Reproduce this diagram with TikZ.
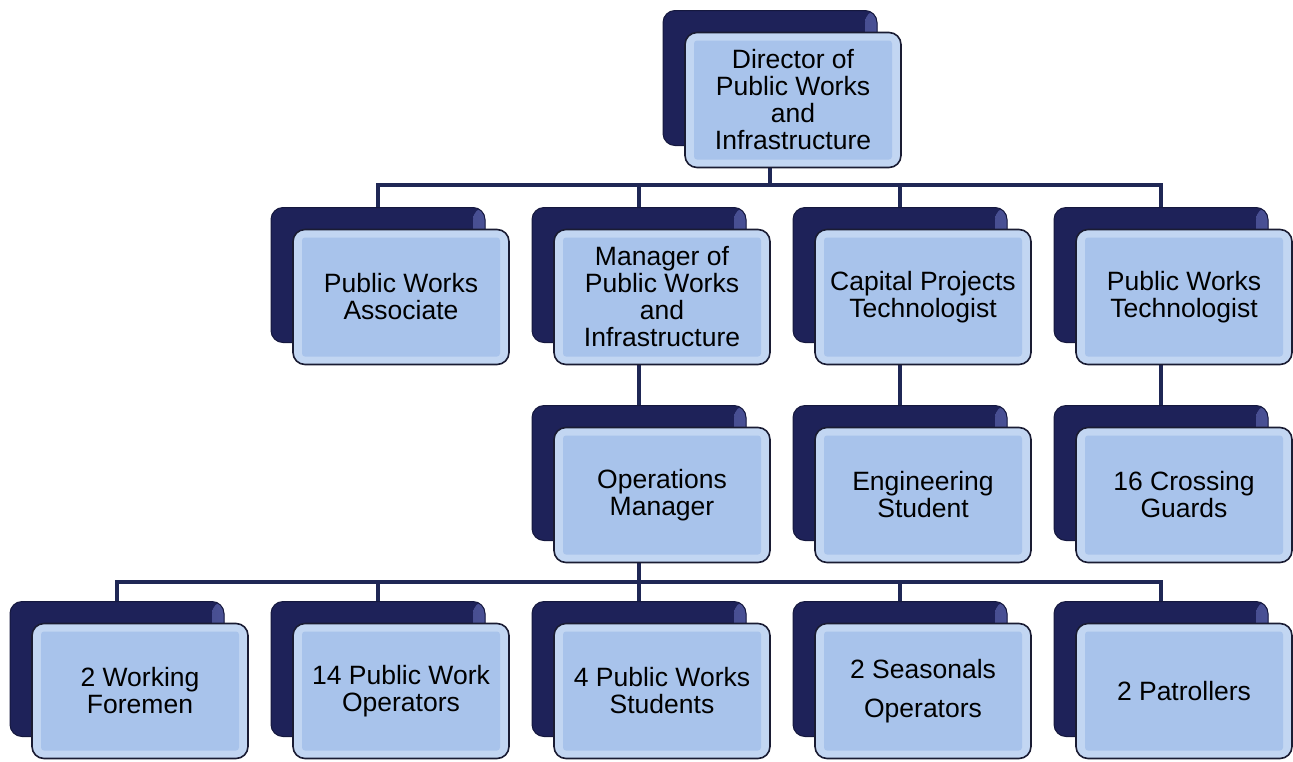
\documentclass[tikz,border=0pt]{standalone}
\usepackage{fontspec}
\setmainfont{Liberation Sans}
\usetikzlibrary{backgrounds}
\definecolor{navy}{HTML}{1E2259}
\definecolor{navyedge}{HTML}{4A5195}
\definecolor{lineblue}{HTML}{1F2755}
\definecolor{boxblue}{HTML}{A8C3EB}
\definecolor{bevel}{HTML}{C2D6F2}
\definecolor{boxedge}{HTML}{1A1C33}
\tikzset{
 backbox/.style={draw=navy!70!black, line width=1pt, fill=navy, rounded corners=12pt,
   minimum width=214pt, minimum height=135pt, inner sep=0pt,
   path picture={\shade[left color=navy, right color=navyedge]
     ([xshift=-12pt]path picture bounding box.north east) rectangle (path picture bounding box.south east);}},
 frontbox/.style={draw=boxedge, line width=1.6pt, fill=bevel, rounded corners=12pt,
   minimum width=216pt, minimum height=135pt, inner sep=0pt, align=center,
   font=\fontsize{26.5}{27}\selectfont,
   path picture={\fill[boxblue, rounded corners=3pt] ([shift={(9pt,-8pt)}]path picture bounding box.north west)
     rectangle ([shift={(-9pt,8pt)}]path picture bounding box.south east);}},
 conn/.style={draw=lineblue, line width=4pt}
}
\begin{document}
\begin{tikzpicture}[x=1pt,y=-1pt]
\useasboundingbox (0,0) rectangle (1293,761);
\coordinate (busA) at (0,185);
\coordinate (busB) at (0,582);
% back boxes
\node[backbox] (dirB) at (770,78) {};
\node[backbox] (pwaB) at (378,275) {};
\node[backbox] (mgrB) at (639,275) {};
\node[backbox] (cptB) at (900,275) {};
\node[backbox] (pwtB) at (1161,275) {};
\node[backbox] (opsB) at (639,473) {};
\node[backbox] (engB) at (900,473) {};
\node[backbox] (cgB) at (1161,473) {};
\node[backbox] (wfB) at (117,669) {};
\node[backbox] (opB) at (378,669) {};
\node[backbox] (stB) at (639,669) {};
\node[backbox] (seB) at (900,669) {};
\node[backbox] (paB) at (1161,669) {};
% connectors
\begin{scope}[on background layer]
\draw[conn] (dirB.south) -- (dirB.south |- busA) -| (pwaB.north);
\draw[conn] (dirB.south |- busA) -| (mgrB.north);
\draw[conn] (dirB.south |- busA) -| (cptB.north);
\draw[conn] (dirB.south |- busA) -| (pwtB.north);
\draw[conn] (mgrB.south) -- (opsB.north);
\draw[conn] (cptB.south) -- (engB.north);
\draw[conn] (pwtB.south) -- (cgB.north);
\draw[conn] (opsB.south) -- (opsB.south |- busB) -| (wfB.north);
\draw[conn] (opsB.south |- busB) -| (opB.north);
\draw[conn] (opsB.south |- busB) -| (stB.north);
\draw[conn] (opsB.south |- busB) -| (seB.north);
\draw[conn] (opsB.south |- busB) -| (paB.north);
\end{scope}
% front boxes
\node[frontbox] (dir) at (793,100) {Director of\\Public Works\\and\\Infrastructure};
\node[frontbox] (pwa) at (401,297) {Public Works\\Associate};
\node[frontbox] (mgr) at (662,297) {Manager of\\Public Works\\and\\Infrastructure};
\node[frontbox] (cpt) at (923,297) {Capital Projects\\Technologist};
\node[frontbox] (pwt) at (1184,297) {Public Works\\Technologist};
\node[frontbox] (ops) at (662,495) {Operations\\Manager};
\node[frontbox] (eng) at (923,495) {Engineering\\Student};
\node[frontbox] (cg) at (1184,495) {16 Crossing\\Guards};
\node[frontbox] (wf) at (140,691) {2 Working\\Foremen};
\node[frontbox] (op) at (401,691) {14 Public Work\\Operators};
\node[frontbox] (st) at (662,691) {4 Public Works\\Students};
\node[frontbox] (se) at (923,691) {2 Seasonals\\[12pt]Operators};
\node[frontbox] (pa) at (1184,691) {2 Patrollers};
\end{tikzpicture}
\end{document}
